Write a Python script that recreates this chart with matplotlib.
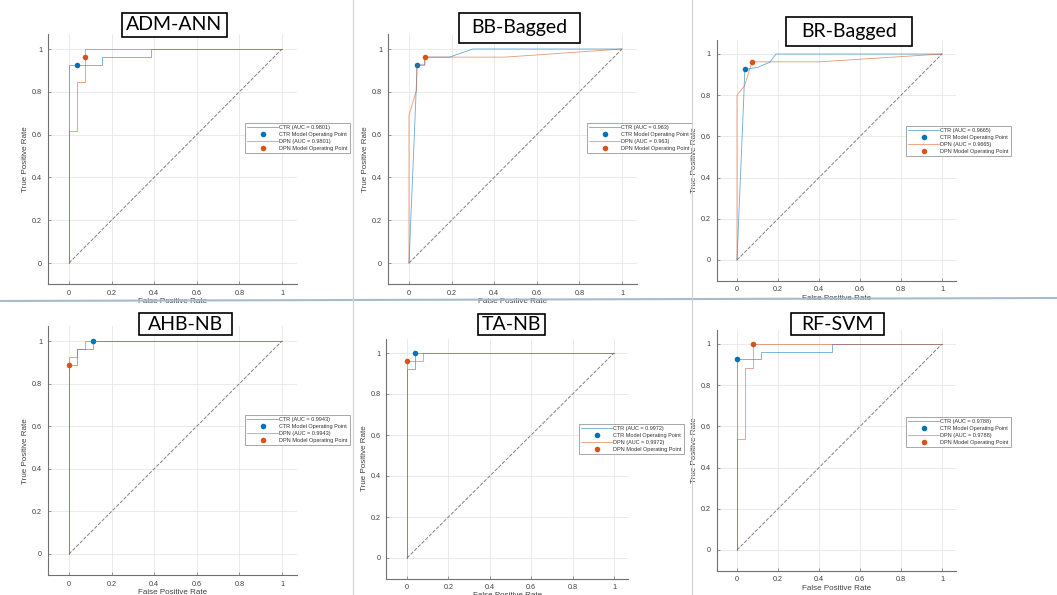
import matplotlib
matplotlib.use("Agg")
import matplotlib.pyplot as plt
from matplotlib.patches import Rectangle
from matplotlib.lines import Line2D

plt.rcParams["font.family"] = ["Liberation Sans", "DejaVu Sans"]

W, H = 1057, 595

# model names and AUC values
models = ["ADM-ANN", "BB-Bagged", "BR-Bagged", "AHB-NB", "TA-NB", "RF-SVM"]
aucs = ["0.9801", "0.963", "0.9665", "0.9943", "0.9972", "0.9788"]

# ROC curves (FPR, TPR)
adm_ctr_x = [0, 0, 0.154, 0.154, 0.385, 0.385, 1]
adm_ctr_y = [0, 0.925, 0.925, 0.962, 0.962, 1, 1]
adm_dpn_x = [0, 0, 0.037, 0.037, 0.074, 0.074, 1]
adm_dpn_y = [0, 0.615, 0.615, 0.846, 0.846, 1, 1]

bb_ctr_x = [0, 0.033, 0.038, 0.074, 0.074, 0.19, 0.30, 1]
bb_ctr_y = [0, 0.79, 0.925, 0.925, 0.962, 0.962, 1, 1]
bb_dpn_x = [0, 0, 0.036, 0.037, 0.074, 0.074, 0.45, 1]
bb_dpn_y = [0, 0.69, 0.81, 0.925, 0.925, 0.962, 0.962, 1]

br_ctr_x = [0, 0.033, 0.038, 0.10, 0.16, 0.19, 1]
br_ctr_y = [0, 0.79, 0.925, 0.935, 0.96, 1, 1]
br_dpn_x = [0, 0, 0.037, 0.073, 0.40, 1]
br_dpn_y = [0, 0.80, 0.846, 0.962, 0.962, 1]

ahb_ctr_x = [0, 0, 0.038, 0.038, 0.115, 0.115, 1]
ahb_ctr_y = [0, 0.885, 0.885, 0.962, 0.962, 1, 1]
ahb_dpn_x = [0, 0, 0.038, 0.038, 0.077, 0.077, 1]
ahb_dpn_y = [0, 0.923, 0.923, 0.962, 0.962, 1, 1]

ta_ctr_x = [0, 0, 0.038, 0.038, 1]
ta_ctr_y = [0, 0.923, 0.923, 1, 1]
ta_dpn_x = [0, 0, 0.077, 0.077, 1]
ta_dpn_y = [0, 0.962, 0.962, 1, 1]

rf_ctr_x = [0, 0, 0.115, 0.115, 0.462, 0.462, 1]
rf_ctr_y = [0, 0.926, 0.926, 0.962, 0.962, 1, 1]
rf_dpn_x = [0, 0, 0.038, 0.038, 0.077, 0.077, 1]
rf_dpn_y = [0, 0.538, 0.538, 0.885, 0.885, 1, 1]

# operating points (FPR, TPR)
ctr_op = [(0.038, 0.925), (0.038, 0.925), (0.037, 0.925), (0.115, 1.0), (0.040, 1.0), (0.0, 0.926)]
dpn_op = [(0.074, 0.962), (0.074, 0.962), (0.073, 0.962), (0.0, 0.885), (0.0, 0.962), (0.076, 1.0)]

curves = [
    (adm_ctr_x, adm_ctr_y, adm_dpn_x, adm_dpn_y),
    (bb_ctr_x, bb_ctr_y, bb_dpn_x, bb_dpn_y),
    (br_ctr_x, br_ctr_y, br_dpn_x, br_dpn_y),
    (ahb_ctr_x, ahb_ctr_y, ahb_dpn_x, ahb_dpn_y),
    (ta_ctr_x, ta_ctr_y, ta_dpn_x, ta_dpn_y),
    (rf_ctr_x, rf_ctr_y, rf_dpn_x, rf_dpn_y),
]

# layout in pixels: tick 0 / tick 1 positions
px_x = [(69, 282), (409, 622), (737, 942), (69, 282), (407, 614), (737, 942)]
px_y = [(263, 49), (263, 49), (260, 54), (554, 341), (558, 353), (550, 344)]
leg_pos = [(245, 123), (587, 123), (906, 126), (245, 415), (579, 424), (906, 417)]
title_box = [(122, 13, 105, 24), (459, 13, 121, 30), (786, 17, 126, 29),
             (139, 313, 93, 22), (478, 314, 67, 21), (791, 313, 93, 22)]

BLUE = "#0072BD"
ORANGE = "#D95319"
LO, HI = -0.1, 1.07

fig = plt.figure(figsize=(W / 100, H / 100), dpi=100)
fig.patch.set_facecolor("white")

for i in range(6):
    x0, x1 = px_x[i]
    y0, y1 = px_y[i]
    sx = x1 - x0
    sy = y0 - y1
    left = (x0 + LO * sx) / W
    bottom = 1 - (y0 - LO * sy) / H
    ax = fig.add_axes([left, bottom, (HI - LO) * sx / W, (HI - LO) * sy / H])
    ax.set_xlim(LO, HI)
    ax.set_ylim(LO, HI)
    ticks = [0, 0.2, 0.4, 0.6, 0.8, 1]
    ax.set_xticks(ticks)
    ax.set_yticks(ticks)
    ax.set_xticklabels(["0", "0.2", "0.4", "0.6", "0.8", "1"])
    ax.set_yticklabels(["0", "0.2", "0.4", "0.6", "0.8", "1"])
    ax.grid(True, color="#e6e6e6", lw=0.6)
    ax.set_axisbelow(True)
    for s in ["top", "right"]:
        ax.spines[s].set_visible(False)
    for s in ["left", "bottom"]:
        ax.spines[s].set_color("#707070")
        ax.spines[s].set_linewidth(0.8)
    ax.tick_params(direction="in", length=2.5, width=0.5, colors="#707070",
                   labelsize=5.2, labelcolor="#404040", pad=4)
    ax.set_xlabel("False Positive Rate", fontsize=5.8, color="#404040", labelpad=1)
    ax.set_ylabel("True Positive Rate", fontsize=5.8, color="#404040", labelpad=2)

    cx, cy, dx, dy = curves[i]
    ax.plot([0, 1], [0, 1], ls="--", color="#808080", lw=0.7)
    l1, = ax.plot(cx, cy, color=BLUE, lw=0.6, alpha=0.6)
    p1, = ax.plot([ctr_op[i][0]], [ctr_op[i][1]], "o", color=BLUE, ms=4, mec="none")
    l2, = ax.plot(dx, dy, color=ORANGE, lw=0.6, alpha=0.6)
    p2, = ax.plot([dpn_op[i][0]], [dpn_op[i][1]], "o", color=ORANGE, ms=4, mec="none")
    lx, ly = leg_pos[i]
    leg = ax.legend([l1, p1, l2, p2],
                    ["CTR (AUC = %s)" % aucs[i], "CTR Model Operating Point",
                     "DPN (AUC = %s)" % aucs[i], "DPN Model Operating Point"],
                    loc="upper left", bbox_to_anchor=(lx / W, 1 - ly / H),
                    bbox_transform=fig.transFigure, fontsize=4.0, frameon=True,
                    fancybox=False, edgecolor="#999999", framealpha=1,
                    labelspacing=0.35, borderpad=0.4, handlelength=5.5,
                    handletextpad=0.3, borderaxespad=0)
    leg.get_frame().set_linewidth(0.6)
    for t in leg.get_texts():
        t.set_color("#333333")

    bx, by, bw, bh = title_box[i]
    fig.patches.append(Rectangle((bx / W, 1 - (by + bh) / H), bw / W, bh / H,
                                 transform=fig.transFigure, facecolor="white",
                                 edgecolor="black", lw=1.2, zorder=5))
    fig.text((bx + bw / 2) / W, 1 - (by + bh / 2) / H, models[i], fontsize=14,
             family="Lato", ha="center", va="center", zorder=6)

# panel separators
fig.add_artist(Line2D([0, 1], [1 - 301 / H, 1 - 298 / H], color="#a9bccb", lw=1.5))
for xs in [353, 692]:
    fig.add_artist(Line2D([xs / W, xs / W], [0, 1], color="#d0d0d0", lw=0.8))

fig.savefig("out.png", dpi=100, facecolor="white")
